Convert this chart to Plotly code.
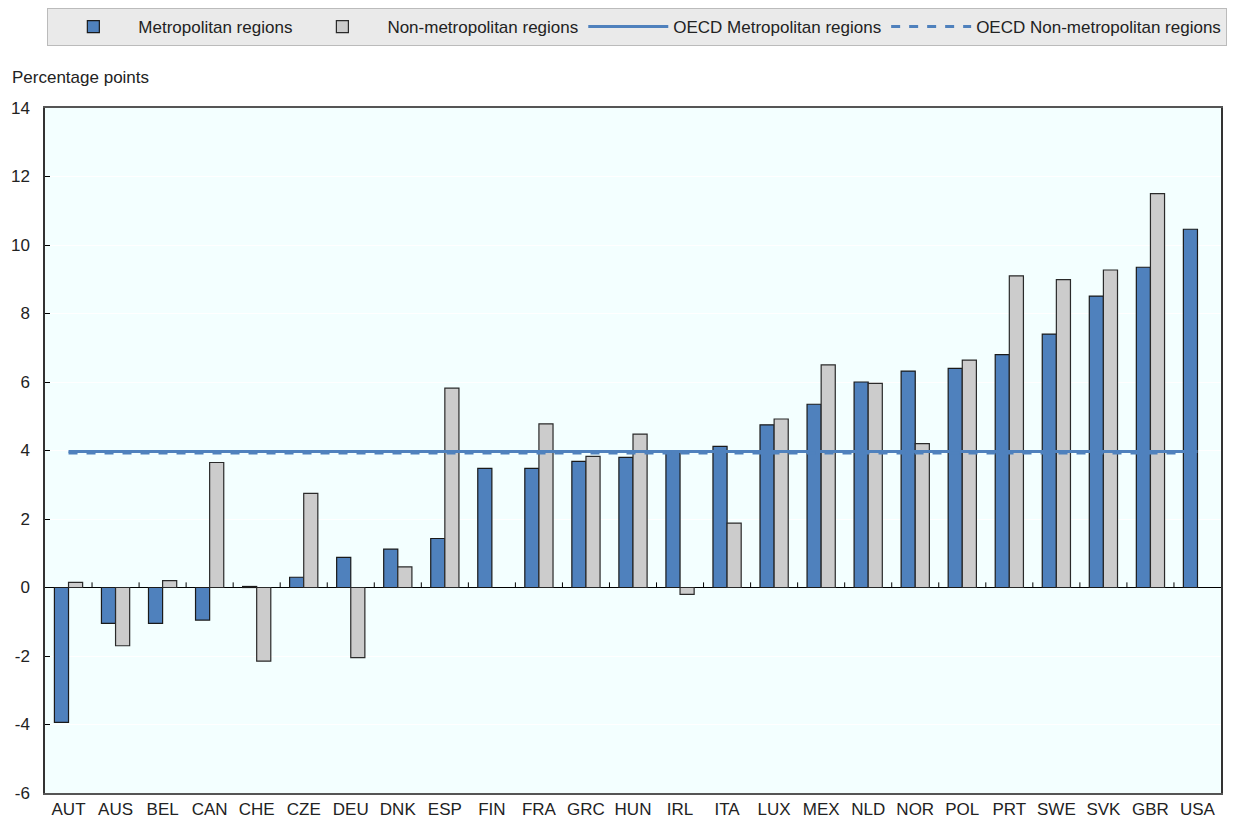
import plotly.graph_objects as go

# Data
countries = ["AUT", "AUS", "BEL", "CAN", "CHE", "CZE", "DEU", "DNK", "ESP", "FIN",
             "FRA", "GRC", "HUN", "IRL", "ITA", "LUX", "MEX", "NLD", "NOR", "POL",
             "PRT", "SWE", "SVK", "GBR", "USA"]
metro = [-3.94, -1.05, -1.05, -0.95, 0.03, 0.30, 0.88, 1.12, 1.43, 3.48,
         3.48, 3.68, 3.80, 3.96, 4.12, 4.75, 5.35, 6.00, 6.32, 6.40,
         6.80, 7.40, 8.51, 9.35, 10.46]
non_metro = [0.15, -1.70, 0.20, 3.65, -2.15, 2.75, -2.05, 0.60, 5.82, None,
             4.78, 3.83, 4.48, -0.20, 1.88, 4.92, 6.50, 5.96, 4.20, 6.64,
             9.10, 8.99, 9.27, 11.50, None]
oecd_metro = 3.97
oecd_non_metro = 3.93
y_ticks = [-6, -4, -2, 0, 2, 4, 6, 8, 10, 12, 14]

BLUE = "#4F81BD"
GREY = "#CCCCCC"
FONT = "Liberation Sans, Arial, sans-serif"

fig = go.Figure()
fig.add_trace(go.Bar(x=countries, y=metro, name="Metropolitan regions",
                     marker=dict(color=BLUE, line=dict(color="#1a1a1a", width=1.2))))
fig.add_trace(go.Bar(x=countries, y=non_metro, name="Non-metropolitan regions",
                     marker=dict(color=GREY, line=dict(color="#2a2a2a", width=1.2))))
fig.add_trace(go.Scatter(x=countries, y=[oecd_metro] * len(countries), mode="lines",
                         name="OECD Metropolitan regions",
                         line=dict(color=BLUE, width=3)))
fig.add_trace(go.Scatter(x=countries, y=[oecd_non_metro] * len(countries), mode="lines",
                         name="OECD Non-metropolitan regions",
                         line=dict(color=BLUE, width=3, dash="dash")))

# small tick marks on the zero line between categories
for i in range(len(countries) - 1):
    fig.add_shape(type="line", xref="x", yref="y", x0=i + 0.5, x1=i + 0.5,
                  y0=0, y1=0.15, line=dict(color="black", width=1))

# page body has an 8px margin, so the figure is shrunk to fit the window
fig.update_layout(
    width=1234, height=812,
    margin=dict(l=37, r=21, t=100, b=27, autoexpand=False),
    paper_bgcolor="white",
    plot_bgcolor="#F3FFFF",
    font=dict(family=FONT, size=17, color="#222222"),
    barmode="group",
    bargap=0.4,
    bargroupgap=0,
    showlegend=True,
    legend=dict(orientation="h", x=0.002, y=1.146, xanchor="left", yanchor="top",
                bgcolor="#EAEAEA", bordercolor="#BBBBBB", borderwidth=1,
                font=dict(size=17), itemwidth=80, tracegroupgap=0),
    annotations=[dict(text="Percentage points", xref="paper", yref="paper",
                      x=-0.0298, y=1.045, xanchor="left", yanchor="middle",
                      showarrow=False, font=dict(size=17))],
)
fig.update_xaxes(showline=True, linecolor="#555555", linewidth=1.5, mirror=True,
                 showgrid=False, ticks="", tickfont=dict(size=17), automargin=False)
fig.update_yaxes(range=[-6, 14], tickvals=y_ticks, ticktext=[str(v) for v in y_ticks],
                 showline=True, linecolor="#333333",
                 linewidth=1.5, mirror=True, ticks="inside", ticklen=5,
                 tickcolor="black", showgrid=True, gridcolor="#FFFFFF",
                 zeroline=True, zerolinecolor="black", zerolinewidth=1.2,
                 tickfont=dict(size=17), ticklabelstandoff=10, automargin=False)

fig.write_html("out.html")
